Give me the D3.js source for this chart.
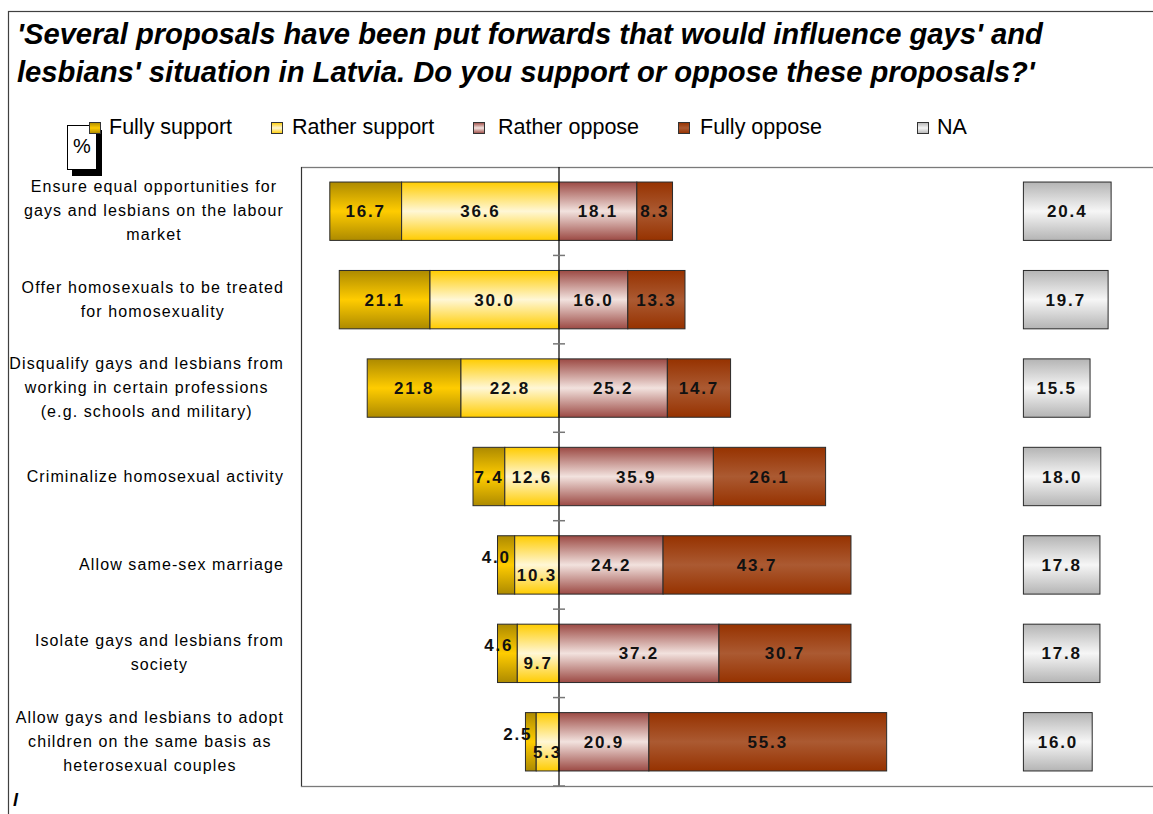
<!DOCTYPE html>
<html>
<head>
<meta charset="utf-8">
<script src="https://cdn.jsdelivr.net/npm/d3@7"></script>
<style>
  html, body { margin: 0; padding: 0; background: #fff; }
  svg { display: block; font-family: "Liberation Sans", Arial, sans-serif; }
</style>
</head>
<body>
<svg id="chart" width="1153" height="814"></svg>
<script>
// ---------- data ----------
const titleLines = [
  "'Several proposals have been put forwards that would influence gays' and",
  "lesbians' situation in Latvia. Do you support or oppose these proposals?'"
];
const categories = [
  "Ensure equal opportunities for|gays and lesbians on the labour|market",
  "Offer homosexuals to be treated|for homosexuality",
  "Disqualify gays and lesbians from|working in certain professions|(e.g. schools and military)",
  "Criminalize homosexual activity",
  "Allow same-sex marriage",
  "Isolate gays and lesbians from|society",
  "Allow gays and lesbians to adopt|children on the same basis as|heterosexual couples"
];
const seriesNames = ["Fully support", "Rather support", "Rather oppose", "Fully oppose", "NA"];
const fullySupport  = [16.7, 21.1, 21.8, 7.4, 4.0, 4.6, 2.5];
const ratherSupport = [36.6, 30.0, 22.8, 12.6, 10.3, 9.7, 5.3];
const ratherOppose  = [18.1, 16.0, 25.2, 35.9, 24.2, 37.2, 20.9];
const fullyOppose   = [8.3, 13.3, 14.7, 26.1, 43.7, 30.7, 55.3];
const naValues      = [20.4, 19.7, 15.5, 18.0, 17.8, 17.8, 16.0];
const naOffset = 108;          // where the NA column starts on the value axis
const xDomain = [-60, 140];

// ---------- styles ----------
const grads = {
  fs: ["#ad8a00", "#ffcc00", "#ad8a00"],
  rs: ["#ffcc00", "#fff7d6", "#ffcc00"],
  ro: ["#9c4a44", "#f2e2de", "#9c4a44"],
  fo: ["#963200", "#ab5a32", "#963200"],
  na: ["#b4b4b4", "#f6f6f6", "#b4b4b4"]
};
const keys = ["fs", "rs", "ro", "fo", "na"];

const svg = d3.select("#chart");
const defs = svg.append("defs");
keys.forEach(k => {
  const g = defs.append("linearGradient").attr("id", "g-" + k)
    .attr("x1", 0).attr("y1", 0).attr("x2", 0).attr("y2", 1);
  g.append("stop").attr("offset", "0%").attr("stop-color", grads[k][0]);
  g.append("stop").attr("offset", "50%").attr("stop-color", grads[k][1]);
  g.append("stop").attr("offset", "100%").attr("stop-color", grads[k][2]);
});

// outer frame
svg.append("rect").attr("x", 8.5).attr("y", 11.5).attr("width", 1160).attr("height", 820)
  .attr("fill", "none").attr("stroke", "#404040").attr("stroke-width", 1.2);

// title
svg.append("g").selectAll("text").data(titleLines).join("text")
  .attr("x", 17).attr("y", (d, i) => 44 + i * 38)
  .attr("font-size", 29.2).attr("font-weight", "bold").attr("font-style", "italic")
  .attr("fill", "#000").text(d => d);

// scales
const plot = { left: 301, top: 167, bottom: 786 };
const x = d3.scaleLinear().domain(xDomain).range([plot.left, plot.left + 860]);
const y = d3.scaleBand().domain(d3.range(categories.length))
  .range([plot.top, plot.bottom]).paddingInner(0.34).paddingOuter(0.17);

// plot frame
svg.append("rect").attr("x", plot.left + 0.5).attr("y", plot.top + 0.5)
  .attr("width", 860).attr("height", plot.bottom - plot.top)
  .attr("fill", "none").attr("stroke", "#7a7a7a").attr("stroke-width", 1.3);
svg.append("line").attr("x1", plot.left + 0.5).attr("x2", plot.left + 0.5)
  .attr("y1", plot.top).attr("y2", plot.bottom).attr("stroke", "#333");

// build segments
const rows = categories.map((c, i) => {
  const segs = [];
  const a = fullySupport[i], b = ratherSupport[i], r = ratherOppose[i], f = fullyOppose[i];
  segs.push({ k: "fs", x0: -(a + b), x1: -b, v: a, i });
  segs.push({ k: "rs", x0: -b, x1: 0, v: b, i });
  segs.push({ k: "ro", x0: 0, x1: r, v: r, i });
  segs.push({ k: "fo", x0: r, x1: r + f, v: f, i });
  segs.push({ k: "na", x0: naOffset, x1: naOffset + naValues[i], v: naValues[i], i });
  return segs;
});
const segs = rows.flat();

const gBars = svg.append("g");
gBars.selectAll("rect").data(segs).join("rect")
  .attr("x", d => x(d.x0)).attr("width", d => x(d.x1) - x(d.x0))
  .attr("y", d => y(d.i)).attr("height", y.bandwidth())
  .attr("fill", d => `url(#g-${d.k})`)
  .attr("stroke", "#2a2a2a").attr("stroke-width", 1);

// axis line at zero with category ticks
const x0 = x(0);
svg.append("line").attr("x1", x0).attr("x2", x0).attr("y1", plot.top).attr("y2", plot.bottom)
  .attr("stroke", "#000").attr("stroke-width", 1.2);
const tickYs = d3.range(categories.length + 1).map(k => plot.top + k * y.step());
svg.append("g").selectAll("line").data(tickYs.slice(1)).join("line")
  .attr("x1", x0 - 6).attr("x2", x0 + 6).attr("y1", d => d).attr("y2", d => d)
  .attr("stroke", "#777").attr("stroke-width", 1.5);

// value labels
const fmt = d3.format(".1f");
const labels = svg.append("g").attr("font-size", 17).attr("font-weight", "bold")
  .attr("letter-spacing", 1.8).attr("fill", "#111");
segs.forEach(d => {
  const cy = y(d.i) + y.bandwidth() / 2;
  const w = x(d.x1) - x(d.x0);
  let lx = (x(d.x0) + x(d.x1)) / 2, ly = cy + 6, anchor = "middle";
  const fsW = x(-ratherSupport[d.i]) - x(-(fullySupport[d.i] + ratherSupport[d.i]));
  if (d.k === "fs" && w < 25) { lx = x(d.x1) - 4; anchor = "end"; ly = cy - 2; }
  if (d.k === "rs" && fsW < 25) { ly = cy + 16; }
  labels.append("text").attr("x", lx).attr("y", ly).attr("text-anchor", anchor)
    .text(fmt(d.v));
});

// category labels: block right aligned, lines centred within the block
const catG = svg.append("g").attr("font-size", 16).attr("letter-spacing", 1.1).attr("fill", "#000");
categories.forEach((c, i) => {
  const lines = c.split("|");
  const cy = y(i) + y.bandwidth() / 2;
  const tmp = lines.map(l => catG.append("text").text(l));
  const maxW = d3.max(tmp, t => t.node().getComputedTextLength());
  const cx = 284 - maxW / 2;
  tmp.forEach((t, j) => {
    t.attr("x", cx).attr("text-anchor", "middle")
      .attr("y", cy + (j - (lines.length - 1) / 2) * 24 + 5);
  });
});

// % box
svg.append("rect").attr("x", 72).attr("y", 130).attr("width", 30).attr("height", 46).attr("fill", "#000");
svg.append("rect").attr("x", 67.5).attr("y", 125.5).attr("width", 29).attr("height", 44)
  .attr("fill", "#fff").attr("stroke", "#000").attr("stroke-width", 1);
svg.append("text").attr("x", 82).attr("y", 153).attr("text-anchor", "middle")
  .attr("font-size", 20).text("%");

// legend
const legendPos = [[89, 109], [271, 292], [473, 498], [678, 700], [917, 937]];
const leg = svg.append("g");
seriesNames.forEach((n, i) => {
  leg.append("rect").attr("x", legendPos[i][0] + 0.5).attr("y", 122.5).attr("width", 11).attr("height", 11)
    .attr("fill", `url(#g-${keys[i]})`).attr("stroke", "#333").attr("stroke-width", 1);
  leg.append("text").attr("x", legendPos[i][1]).attr("y", 134).attr("font-size", 21.5)
    .attr("fill", "#000").text(n);
});

// clipped footnote glyph at bottom left
svg.append("text").attr("x", 13).attr("y", 806).attr("font-size", 18)
  .attr("font-style", "italic").attr("font-weight", "bold").text("l");
</script>
</body>
</html>
